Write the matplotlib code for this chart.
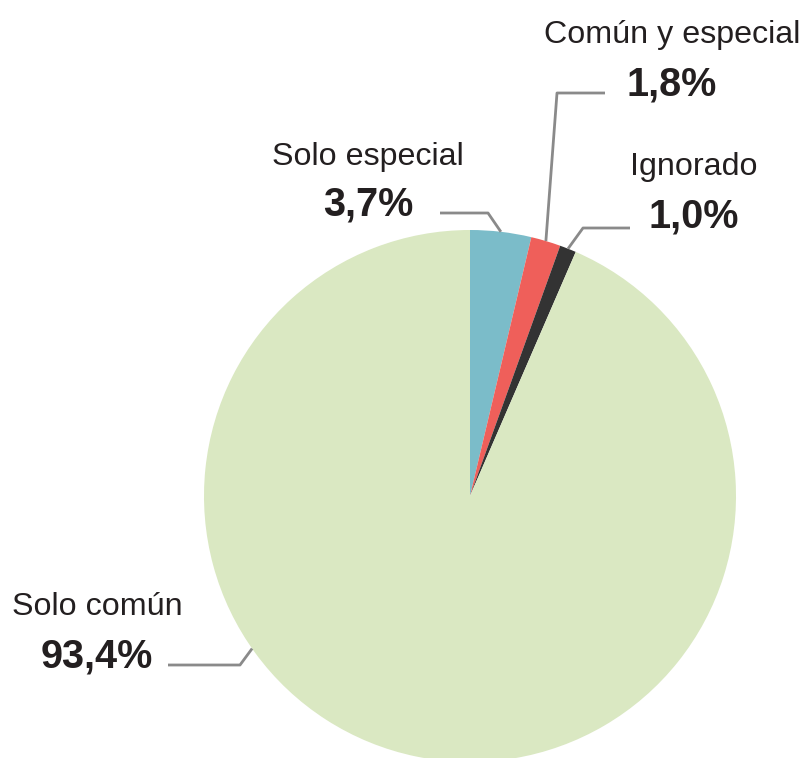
import numpy as np
import matplotlib.pyplot as plt

labels = ["Solo especial", "Común y especial", "Ignorado", "Solo común"]
values = [3.7, 1.8, 1.0, 93.4]
value_labels = ["3,7%", "1,8%", "1,0%", "93,4%"]
colors = ["#7bbcc9", "#ef5f5a", "#333333", "#dae8c2"]

plt.rcParams['font.family'] = ['Liberation Sans', 'DejaVu Sans']

W, H = 803, 758
fig = plt.figure(figsize=(W / 100, H / 100), dpi=100)
ax = fig.add_axes([0, 0, 1, 1])

cx, cy, r = 470, 496, 266

# pie drawn with y pointing down, so clockwise on screen = counterclock in data
wedges, _ = ax.pie(values, colors=colors, startangle=-90, counterclock=True,
                   center=(cx, cy), radius=r, frame=True,
                   wedgeprops=dict(linewidth=0))
ax.set_xlim(0, W)
ax.set_ylim(H, 0)
ax.set_aspect('equal')
ax.axis('off')


def edge_point(angle_deg):
    a = np.deg2rad(angle_deg)
    return cx + r * np.cos(a), cy + r * np.sin(a)


# label layout: (text x, name baseline y, value baseline y, line start, elbow, anchor angle or None)
layout = {
    "Solo especial": (368, 165, 216, (440, 213), (488, 213), None),
    "Común y especial": (672, 43, 95, (605, 93), (557, 93), None),
    "Ignorado": (694, 175, 228, (630, 228), (583, 228), None),
    "Solo común": (97, 615, 668, (168, 665), (240, 665), 145),
}

line_color = "#8a8a8a"
for w, lab, vl in zip(wedges, labels, value_labels):
    tx, yb1, yb2, p0, p1, ang = layout[lab]
    if ang is None:
        ang = (w.theta1 + w.theta2) / 2
    px, py = edge_point(ang)
    ax.plot([p0[0], p1[0], px], [p0[1], p1[1], py], color=line_color,
            lw=2, solid_capstyle='butt', zorder=3)
    ax.text(tx, yb1, lab, ha='center', va='baseline', fontsize=23.2, color="#231f20")
    ax.text(tx, yb2, vl, ha='center', va='baseline', fontsize=28.5,
            fontweight='bold', color="#231f20")

fig.savefig("out.png", dpi=100)
